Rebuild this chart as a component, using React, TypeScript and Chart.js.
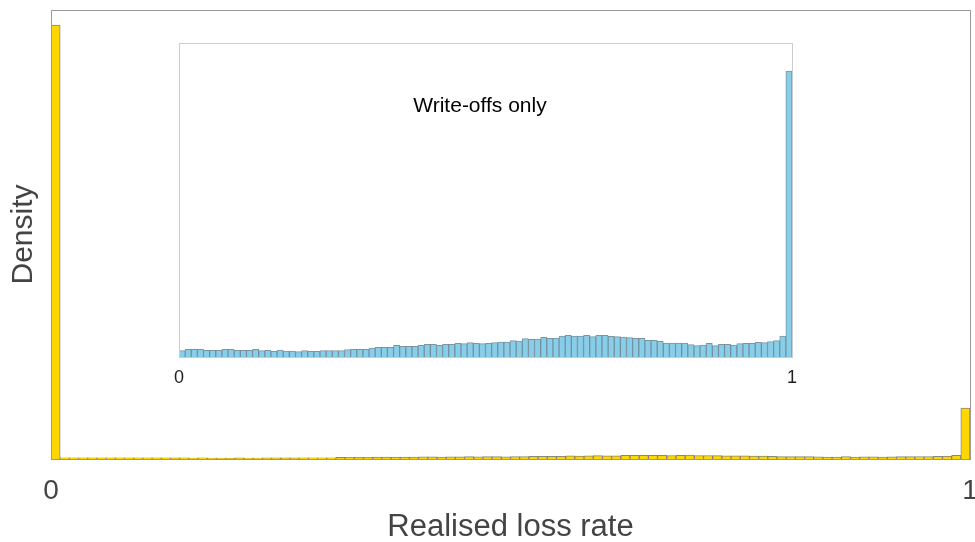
import React, { useEffect, useRef } from "react";
import { Chart, registerables } from "chart.js";

Chart.register(...registerables);

const FONT = "'Liberation Sans', Arial, Helvetica, sans-serif";

// 100 bins on [0, 1]
const BIN_LABELS: string[] = Array.from({ length: 100 }, (_, i) => (i / 100).toFixed(2));

// Main histogram: all loans (density)
const MAIN_DENSITY: number[] = [
  63.8,
  0.19, 0.19, 0.19, 0.17, 0.17, 0.17, 0.19, 0.19, 0.17,
  0.17, 0.17, 0.19, 0.16, 0.17, 0.14, 0.18, 0.15, 0.15, 0.13,
  0.16, 0.14, 0.14, 0.16, 0.16, 0.16, 0.16, 0.18, 0.19, 0.19,
  0.19, 0.23, 0.24, 0.24, 0.24, 0.29, 0.27, 0.27, 0.27, 0.29,
  0.32, 0.32, 0.29, 0.32, 0.32, 0.34, 0.33, 0.36, 0.34, 0.33,
  0.34, 0.36, 0.38, 0.38, 0.41, 0.40, 0.46, 0.44, 0.45, 0.49,
  0.47, 0.48, 0.53, 0.54, 0.53, 0.53, 0.54, 0.51, 0.54, 0.56,
  0.52, 0.51, 0.50, 0.48, 0.47, 0.47, 0.42, 0.42, 0.39, 0.35,
  0.35, 0.35, 0.35, 0.31, 0.28, 0.30, 0.34, 0.28, 0.32, 0.32,
  0.30, 0.33, 0.34, 0.34, 0.37, 0.36, 0.38, 0.41, 0.53,
  7.5,
];
const MAIN_Y_MAX = 66;

// Inset histogram: write-offs only (density)
const INSET_DENSITY: number[] = [
  0.38, 0.46, 0.46, 0.46, 0.40, 0.40, 0.40, 0.46, 0.46, 0.40,
  0.40, 0.40, 0.46, 0.38, 0.40, 0.34, 0.42, 0.36, 0.36, 0.32,
  0.38, 0.34, 0.34, 0.38, 0.38, 0.38, 0.38, 0.44, 0.46, 0.46,
  0.46, 0.54, 0.58, 0.58, 0.58, 0.70, 0.64, 0.64, 0.64, 0.70,
  0.76, 0.76, 0.70, 0.76, 0.76, 0.82, 0.80, 0.86, 0.82, 0.80,
  0.82, 0.86, 0.90, 0.90, 0.98, 0.96, 1.10, 1.06, 1.08, 1.18,
  1.12, 1.14, 1.26, 1.30, 1.26, 1.26, 1.30, 1.22, 1.30, 1.30,
  1.24, 1.22, 1.20, 1.16, 1.12, 1.12, 1.00, 1.00, 0.94, 0.84,
  0.84, 0.84, 0.84, 0.74, 0.68, 0.72, 0.82, 0.68, 0.76, 0.76,
  0.72, 0.80, 0.82, 0.82, 0.88, 0.86, 0.92, 0.98, 1.26, 17.16,
];
const INSET_Y_MAX = 18.84;

const X_TICK_VALUES: number[] = [0, 1];
const X_TICK_LABELS: string[] = ["0", "1"];
const MAIN_X_TITLE = "Realised loss rate";
const MAIN_Y_TITLE = "Density";
const INSET_NOTE = "Write-offs only";

const boxPlugin = (id: string, color: string) => ({
  id,
  afterDraw(chart: any) {
    const { ctx, chartArea } = chart;
    const l = Math.round(chartArea.left);
    const t = Math.round(chartArea.top);
    const r = Math.round(chartArea.right);
    const b = Math.round(chartArea.bottom);
    ctx.save();
    ctx.strokeStyle = color;
    ctx.lineWidth = 1;
    ctx.strokeRect(l + 0.5, t + 0.5, r - l, b - t);
    ctx.restore();
  },
});

const notePlugin = {
  id: "insetNote",
  afterDraw(chart: any) {
    const { ctx, chartArea } = chart;
    ctx.save();
    ctx.fillStyle = "#000";
    ctx.font = `21px ${FONT}`;
    ctx.textAlign = "center";
    ctx.textBaseline = "alphabetic";
    const x = chartArea.left + (chartArea.right - chartArea.left) * 0.491;
    const y = chartArea.top + (chartArea.bottom - chartArea.top) * 0.219;
    ctx.fillText(INSET_NOTE, x, y);
    ctx.restore();
  },
};

const zeroPad = (s: any) => {
  s.paddingLeft = 0;
  s.paddingRight = 0;
};

export default function App() {
  const mainRef = useRef<HTMLCanvasElement | null>(null);
  const insetRef = useRef<HTMLCanvasElement | null>(null);

  useEffect(() => {
    Chart.defaults.font.family = FONT;
    const main = new Chart(mainRef.current as HTMLCanvasElement, {
      type: "bar",
      data: {
        labels: BIN_LABELS,
        datasets: [
          {
            data: MAIN_DENSITY,
            backgroundColor: "#FFD700",
            borderColor: "rgba(120,115,90,0.85)",
            borderWidth: 1,
            barPercentage: 1,
            categoryPercentage: 1,
          },
        ],
      },
      options: {
        responsive: false,
        animation: false,
        layout: { padding: { left: 0, top: 10, right: 5, bottom: 0 } },
        plugins: { legend: { display: false }, tooltip: { enabled: false } },
        scales: {
          x: { type: "category", display: false },
          xv: {
            type: "linear",
            position: "bottom",
            offset: false,
            min: 0,
            max: 1,
            afterBuildTicks: (axis: any) => {
              axis.ticks = X_TICK_VALUES.map((v) => ({ value: v }));
            },
            afterFit: zeroPad,
            ticks: {
              font: { size: 28, family: FONT },
              color: "#444",
              padding: 15.8,
              maxRotation: 0,
              callback: (v: any) => X_TICK_LABELS[X_TICK_VALUES.indexOf(Number(v))] ?? "",
            },
            grid: { display: false, drawTicks: false, offset: false },
            border: { display: false },
            title: {
              display: true,
              text: MAIN_X_TITLE,
              font: { size: 31, family: FONT },
              color: "#444",
              padding: { top: -15.8, bottom: -3.6 },
            },
          },
          y: {
            min: 0,
            max: MAIN_Y_MAX,
            ticks: { display: false },
            grid: { display: false, drawTicks: false },
            border: { display: false },
            title: {
              display: true,
              text: MAIN_Y_TITLE,
              font: { size: 30, family: FONT },
              color: "#444",
              padding: { top: 6, bottom: 9 },
            },
          },
        },
      } as any,
      plugins: [boxPlugin("mainBox", "#9a9a9a")],
    });

    const inset = new Chart(insetRef.current as HTMLCanvasElement, {
      type: "bar",
      data: {
        labels: BIN_LABELS,
        datasets: [
          {
            data: INSET_DENSITY,
            backgroundColor: "#87CEEB",
            borderColor: "rgba(100,130,145,0.85)",
            borderWidth: 1,
            barPercentage: 1,
            categoryPercentage: 1,
          },
        ],
      },
      options: {
        responsive: false,
        animation: false,
        layout: { padding: { left: 19, top: 10, right: 18, bottom: 3 } },
        plugins: { legend: { display: false }, tooltip: { enabled: false } },
        scales: {
          x: { type: "category", display: false },
          xv: {
            type: "linear",
            position: "bottom",
            offset: false,
            min: 0,
            max: 1,
            afterBuildTicks: (axis: any) => {
              axis.ticks = X_TICK_VALUES.map((v) => ({ value: v }));
            },
            afterFit: zeroPad,
            ticks: {
              font: { size: 18, family: FONT },
              color: "#222",
              padding: 10.7,
              maxRotation: 0,
              callback: (v: any) => X_TICK_LABELS[X_TICK_VALUES.indexOf(Number(v))] ?? "",
            },
            grid: { display: false, drawTicks: false, offset: false },
            border: { display: false },
          },
          y: { display: false, min: 0, max: INSET_Y_MAX },
        },
      } as any,
      plugins: [boxPlugin("insetBox", "#cccccc"), notePlugin],
    });

    return () => {
      main.destroy();
      inset.destroy();
    };
  }, []);

  return (
    <div style={{ position: "absolute", left: 0, top: 0, width: 975, height: 542, background: "#fff" }}>
      <canvas ref={mainRef} width={975} height={542} style={{ position: "absolute", left: 0, top: 0 }} />
      <canvas ref={insetRef} width={650} height={370} style={{ position: "absolute", left: 160, top: 33 }} />
    </div>
  );
}
